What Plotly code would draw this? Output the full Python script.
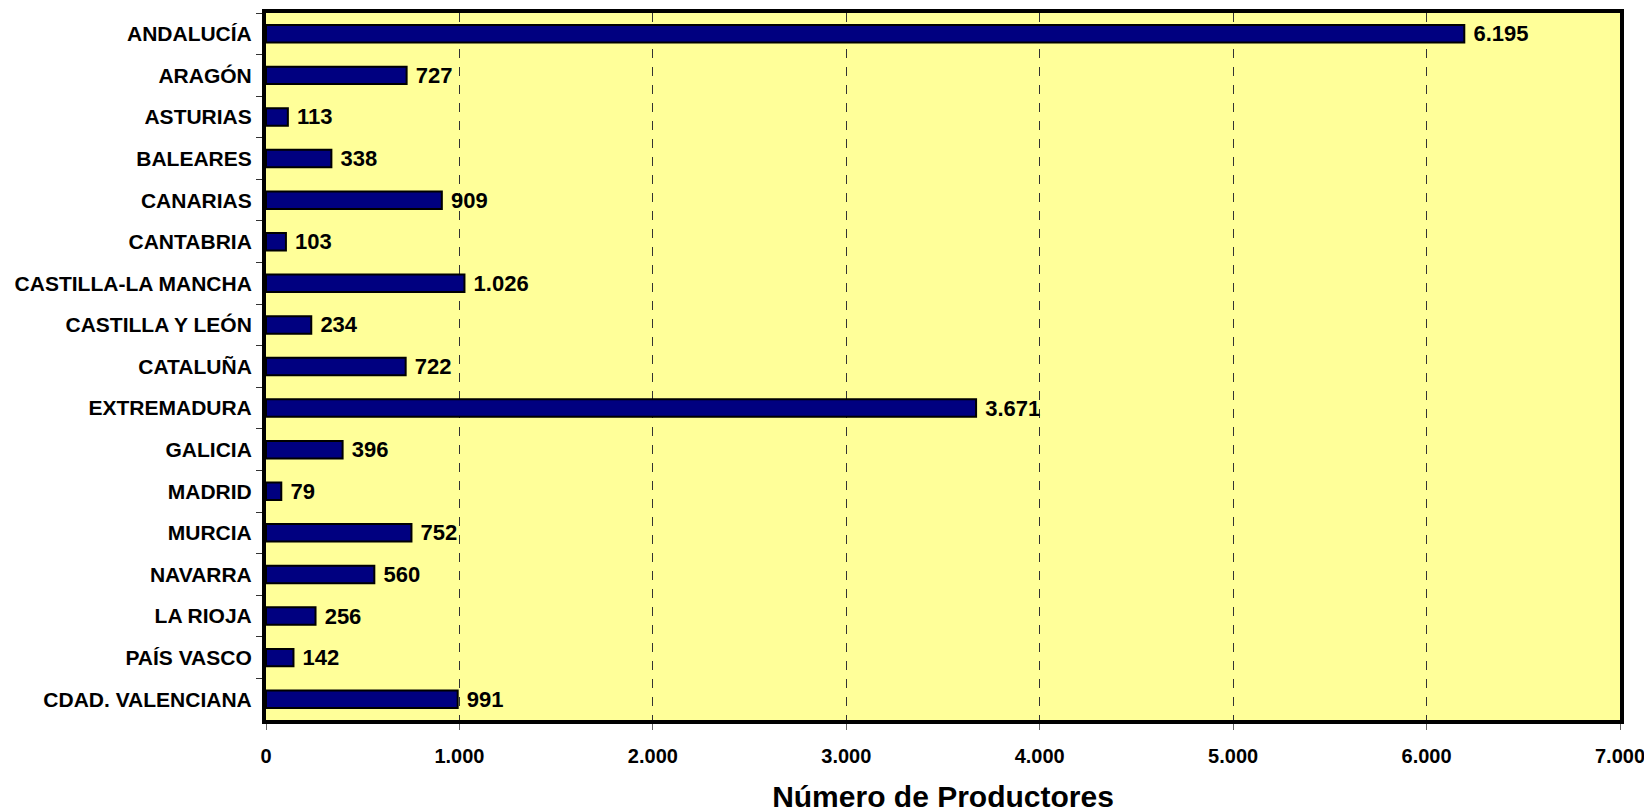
import plotly.graph_objects as go

regions = ["ANDALUCÍA", "ARAGÓN", "ASTURIAS", "BALEARES", "CANARIAS", "CANTABRIA",
           "CASTILLA-LA MANCHA", "CASTILLA Y LEÓN", "CATALUÑA", "EXTREMADURA",
           "GALICIA", "MADRID", "MURCIA", "NAVARRA", "LA RIOJA", "PAÍS VASCO",
           "CDAD. VALENCIANA"]
productores = [6195, 727, 113, 338, 909, 103, 1026, 234, 722, 3671,
               396, 79, 752, 560, 256, 142, 991]
x_ticks = [0, 1000, 2000, 3000, 4000, 5000, 6000, 7000]
x_title = "Número de Productores"

FONT = "Arial, Liberation Sans, sans-serif"

fig = go.Figure(go.Bar(
    y=regions, x=productores, orientation="h",
    marker=dict(color="#000080", line=dict(color="black", width=2)),
    width=0.42,
    texttemplate=" %{x:,d}", textposition="outside", constraintext="none",
    cliponaxis=False,
    textfont=dict(family=FONT, size=22, color="black", weight="bold"),
))

fig.update_layout(
    width=1652, height=812,
    margin=dict(l=258, r=40, t=1, b=100),
    paper_bgcolor="white", plot_bgcolor="#FFFF99",
    separators=",.",
    showlegend=False,
    font=dict(family=FONT, color="black"),
)

fig.update_xaxes(
    range=[0, 7000], tickvals=x_ticks, tickformat=",d",
    showgrid=True, gridcolor="#333333", gridwidth=1, griddash="dash",
    zeroline=False,
    showline=True, linecolor="black", linewidth=4, mirror=True,
    ticks="outside", ticklen=6, tickcolor="#666666",
    tickfont=dict(family=FONT, size=20, color="black", weight="bold"),
    ticklabelstandoff=9,
    title=dict(text=x_title, font=dict(family=FONT, size=30, color="black", weight="bold"), standoff=21),
)
fig.update_yaxes(
    autorange="reversed", type="category",
    showgrid=False, zeroline=False,
    showline=True, linecolor="black", linewidth=4, mirror=True,
    ticks="outside", ticklen=6, tickcolor="#333333", tickson="boundaries",
    tickfont=dict(family=FONT, size=21, color="black", weight="bold"),
    ticklabelstandoff=6,
)

fig.write_html("out.html")
